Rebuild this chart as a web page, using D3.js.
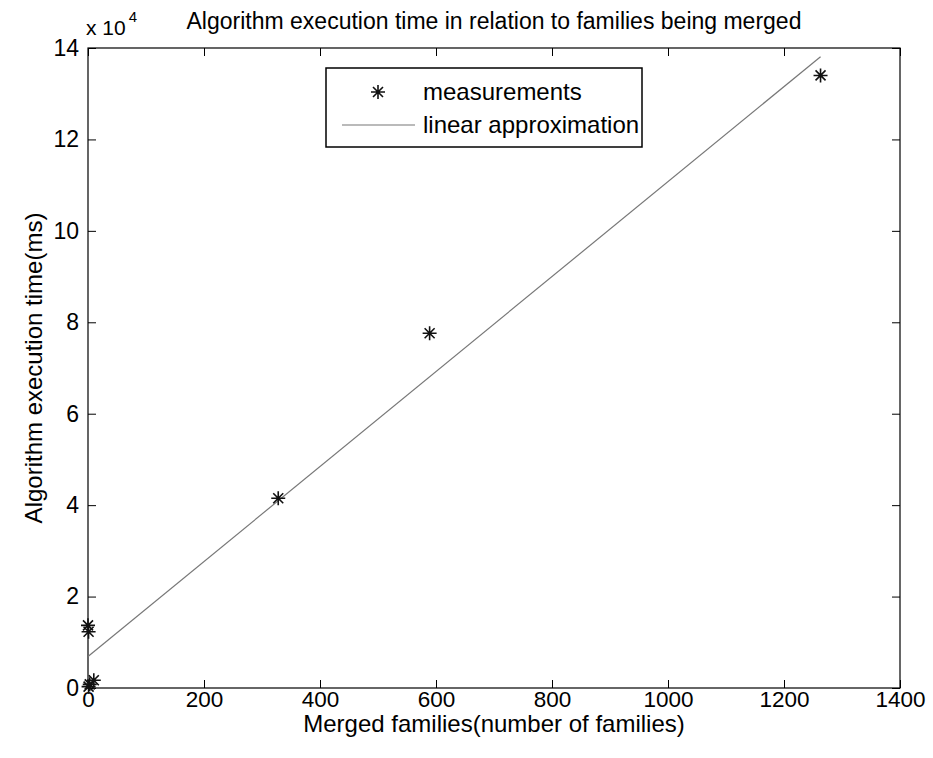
<!DOCTYPE html>
<head>
  <meta charset="utf-8">
  <script src="https://d3js.org/d3.v7.min.js"></script>
  <style>
    body { margin: 0; background: #fff; }
    svg { width: 933px; height: 758px; display: block; }
    text { font-family: 'Liberation Sans', Arial, sans-serif; fill: #000; }
  </style>
</head>

<body>
  <svg></svg>

  <script>
    const width = 933;
    const height = 758;
    const margin = {top: 48, right: 33, bottom: 70, left: 88};

    // measurements (families merged, execution time in ms)
    const families = [0, 1, 1, 3, 10, 328, 589, 1263];
    const execTime = [13700, 12300, 300, 800, 1700, 41500, 77600, 134000];

    // linear approximation end points
    const approxX = [0, 1263];
    const approxY = [6900, 138100];

    const xTicks = [0, 200, 400, 600, 800, 1000, 1200, 1400];
    const yTicks = [0, 2, 4, 6, 8, 10, 12, 14];

    const svg = d3.select('svg');

    const x = d3.scaleLinear()
      .domain([0, 1400])
      .range([margin.left, width - margin.right]);

    const y = d3.scaleLinear()
      .domain([0, 140000])
      .range([height - margin.bottom, margin.top]);

    const x0 = margin.left, x1 = width - margin.right;
    const y0 = height - margin.bottom, y1 = margin.top;

    /*****************************************************
    ** axes (matlab style box, inward ticks)
    ******************************************************/

    const tickLen = 8;

    svg.append('g')
      .attr('transform', `translate(0,${y0})`)
      .call(d3.axisBottom(x).tickValues(xTicks).tickSize(-tickLen).tickPadding(3).tickFormat(d3.format('d')))
      .call(g => g.select('.domain').remove())
      .call(g => g.selectAll('text').attr('font-size', 22.5).attr('font-family', null));

    svg.append('g')
      .attr('transform', `translate(0,${y1})`)
      .call(d3.axisTop(x).tickValues(xTicks).tickSize(-tickLen).tickFormat(''))
      .call(g => g.select('.domain').remove());

    svg.append('g')
      .attr('transform', `translate(${x0},0)`)
      .call(d3.axisLeft(y).tickValues(yTicks.map(d => d * 1e4)).tickSize(-tickLen)
        .tickPadding(9).tickFormat(d => d / 1e4))
      .call(g => g.select('.domain').remove())
      .call(g => g.selectAll('text').attr('font-size', 23).attr('font-family', null));

    svg.append('g')
      .attr('transform', `translate(${x1},0)`)
      .call(d3.axisRight(y).tickValues(yTicks.map(d => d * 1e4)).tickSize(-tickLen).tickFormat(''))
      .call(g => g.select('.domain').remove());

    svg.selectAll('.tick line').attr('stroke', '#000');

    svg.append('rect')
      .attr('x', x0).attr('y', y1)
      .attr('width', x1 - x0).attr('height', y0 - y1)
      .attr('fill', 'none').attr('stroke', '#000').attr('stroke-width', 1.2);

    /*****************************************************
    ** data
    ******************************************************/

    const line = d3.line().x(d => x(d[0])).y(d => y(d[1]));

    svg.append('path')
      .attr('d', line(d3.zip(approxX, approxY)))
      .attr('fill', 'none')
      .attr('stroke', '#777')
      .attr('stroke-width', 1.2);

    const starPath = 'M0,-7L0,7M-7,0L7,0M-5,-5L5,5M-5,5L5,-5';

    svg.append('g').selectAll('path')
      .data(d3.zip(families, execTime)).enter().append('path')
      .attr('d', starPath)
      .attr('transform', d => `translate(${x(d[0])},${y(d[1])})`)
      .attr('fill', 'none')
      .attr('stroke', '#111')
      .attr('stroke-width', 1.6);

    /*****************************************************
    ** labels
    ******************************************************/

    svg.append('text')
      .attr('x', 494).attr('y', 29)
      .attr('text-anchor', 'middle')
      .attr('font-size', 23)
      .text('Algorithm execution time in relation to families being merged');

    const mult = svg.append('text')
      .attr('x', 86).attr('y', 35)
      .attr('font-size', 21);
    mult.append('tspan').text('x 10');
    mult.append('tspan').attr('dy', -13).attr('dx', 3).attr('font-size', 15).text('4');

    svg.append('text')
      .attr('x', 494).attr('y', 732)
      .attr('text-anchor', 'middle')
      .attr('font-size', 24)
      .text('Merged families(number of families)');

    svg.append('text')
      .attr('transform', `translate(42,368) rotate(-90)`)
      .attr('text-anchor', 'middle')
      .attr('font-size', 24)
      .text('Algorithm execution time(ms)');

    /*****************************************************
    ** legend
    ******************************************************/

    const legend = svg.append('g');
    legend.append('rect')
      .attr('x', 326).attr('y', 68)
      .attr('width', 316).attr('height', 79)
      .attr('fill', '#fff').attr('stroke', '#000').attr('stroke-width', 1.5);

    legend.append('path')
      .attr('d', starPath)
      .attr('transform', 'translate(378,92)')
      .attr('fill', 'none').attr('stroke', '#111').attr('stroke-width', 1.6);

    legend.append('text')
      .attr('x', 423).attr('y', 100)
      .attr('font-size', 24)
      .text('measurements');

    legend.append('line')
      .attr('x1', 342).attr('x2', 415)
      .attr('y1', 125).attr('y2', 125)
      .attr('stroke', '#777').attr('stroke-width', 1.2);

    legend.append('text')
      .attr('x', 423).attr('y', 133)
      .attr('font-size', 24)
      .text('linear approximation');
  </script>
</body>
